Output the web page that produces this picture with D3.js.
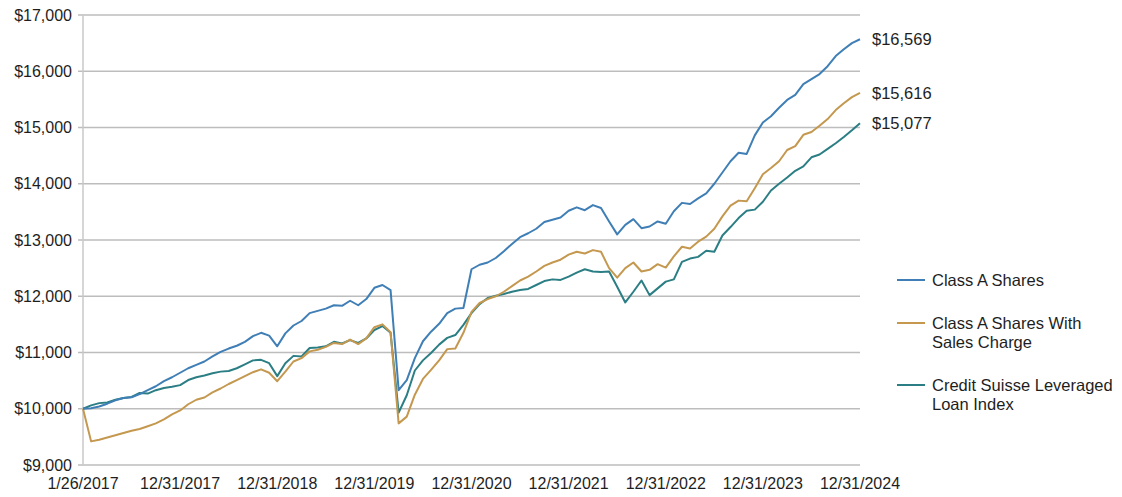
<!DOCTYPE html>
<html>
<head>
<meta charset="utf-8">
<script src="https://cdn.jsdelivr.net/npm/d3@7"></script>
<style>
  html, body { margin: 0; padding: 0; background: #fff; }
  svg { display: block; }
  text { font-family: "Liberation Sans", Arial, Helvetica, sans-serif; fill: #1e1e1e; }
</style>
</head>
<body>
<svg id="chart" width="1122" height="497"></svg>
<script>
// Period index 0 = 1/26/2017 (inception), then month-ends Jan 2017 ... Dec 2024
const tickLabels = ["1/26/2017", "12/31/2017", "12/31/2018", "12/31/2019", "12/31/2020",
                    "12/31/2021", "12/31/2022", "12/31/2023", "12/31/2024"];
const tickIndex = [0, 12, 24, 36, 48, 60, 72, 84, 96];

const seriesNames = ["Class A Shares", "Class A Shares With Sales Charge", "Credit Suisse Leveraged Loan Index"];
const endLabels = ["$16,569", "$15,616", "$15,077"];

const classA = [
  10000, 10010, 10040, 10090, 10150, 10190, 10205, 10260, 10330, 10400, 10490, 10560,
  10640, 10720, 10780, 10840, 10930, 11010, 11070, 11120, 11190, 11290, 11350, 11300,
  11110, 11340, 11480, 11560, 11700, 11740, 11780, 11840, 11830, 11920, 11840, 11950,
  12150, 12200, 12110, 10330, 10510, 10900, 11200, 11370, 11510, 11700, 11780, 11790,
  12480, 12560, 12600, 12680, 12800, 12930, 13050, 13120, 13200, 13320, 13360, 13400,
  13520, 13580, 13530, 13620, 13570, 13330, 13100, 13270, 13370, 13210, 13240, 13330,
  13290, 13510, 13660, 13640, 13740, 13830, 14000, 14200, 14400, 14550, 14530, 14860,
  15090, 15200, 15350, 15490, 15580, 15770, 15860, 15950, 16090, 16270, 16390, 16500,
  16569
];

const classAWithCharge = [
  10000, 9420, 9450, 9490, 9530, 9570, 9610, 9640, 9690, 9740, 9810, 9900,
  9970, 10080, 10160, 10200, 10290, 10360, 10440, 10510, 10580, 10650, 10700, 10640,
  10490, 10660, 10840, 10900, 11020, 11050, 11100, 11170, 11150, 11230, 11150, 11250,
  11450, 11500, 11360, 9740, 9860, 10250, 10530, 10690, 10860, 11060, 11070, 11350,
  11720, 11880, 11950, 12000, 12080, 12180, 12280, 12350, 12440, 12540, 12600, 12650,
  12740, 12790, 12760, 12820, 12790, 12500, 12330, 12500, 12600, 12440, 12470, 12570,
  12510, 12710, 12880, 12850, 12970, 13060, 13200, 13420, 13610, 13700, 13690, 13920,
  14170, 14280, 14400, 14600, 14670, 14870, 14920, 15030, 15150, 15310, 15430, 15540,
  15616
];

const loanIndex = [
  10000, 10060, 10100, 10110, 10160, 10190, 10210, 10280, 10270, 10330, 10370, 10390,
  10420, 10510, 10560, 10590, 10630, 10660, 10670, 10720, 10790, 10860, 10870, 10810,
  10580, 10810, 10940, 10930, 11080, 11090, 11110, 11190, 11160, 11220, 11170, 11250,
  11400, 11470, 11350, 9930, 10240, 10680, 10860, 10990, 11140, 11260, 11310, 11490,
  11700, 11860, 11970, 12010, 12040, 12080, 12110, 12130, 12200, 12270, 12300, 12290,
  12350, 12420, 12480, 12440, 12430, 12440, 12170, 11890, 12080, 12280, 12020, 12140,
  12260, 12300, 12610, 12670, 12700, 12810, 12790, 13080, 13230, 13390, 13520, 13540,
  13680, 13880, 14000, 14110, 14230, 14310, 14470, 14520, 14620, 14720, 14830, 14950,
  15077
];

const yTicks = [9000, 10000, 11000, 12000, 13000, 14000, 15000, 16000, 17000];
const colors = ["#3f7fb5", "#c4984f", "#2b7e84"];

(function () {
  const svg = d3.select("#chart");
  const mLeft = 83, mRight = 860, mTop = 15, mBottom = 465;

  const x = d3.scaleLinear().domain([0, classA.length - 1]).range([mLeft, mRight]);
  const y = d3.scaleLinear().domain([9000, 17000]).range([mBottom, mTop]);

  // gridlines
  svg.append("g").selectAll("line").data(yTicks).join("line")
    .attr("x1", mLeft - 5).attr("x2", mRight)
    .attr("y1", d => y(d)).attr("y2", d => y(d))
    .attr("stroke", "#bdbdbd").attr("stroke-width", 1.5);

  // left axis line
  svg.append("line").attr("x1", mLeft).attr("x2", mLeft).attr("y1", mTop).attr("y2", mBottom)
    .attr("stroke", "#c8c8c8").attr("stroke-width", 1.5);

  // y labels
  const fmt = d3.format("$,");
  svg.append("g").selectAll("text").data(yTicks).join("text")
    .attr("x", mLeft - 11).attr("y", d => y(d))
    .attr("dy", "0.35em").attr("text-anchor", "end")
    .style("font-size", "16px")
    .text(d => fmt(d));

  // x labels
  svg.append("g").selectAll("text").data(tickIndex).join("text")
    .attr("x", d => x(d)).attr("y", 489)
    .attr("text-anchor", "middle")
    .style("font-size", "16px")
    .text((d, i) => tickLabels[i]);

  // lines
  const allSeries = [classA, classAWithCharge, loanIndex];
  const line = d3.line().x((d, i) => x(i)).y(d => y(d));
  [2, 1, 0].forEach(k => {
    svg.append("path").datum(allSeries[k])
      .attr("fill", "none").attr("stroke", colors[k])
      .attr("stroke-width", 2).attr("stroke-linejoin", "round")
      .attr("d", line);
  });

  // end labels
  allSeries.forEach((s, k) => {
    svg.append("text")
      .attr("x", mRight + 12).attr("y", y(s[s.length - 1]))
      .attr("dy", "0.35em")
      .style("font-size", "16.5px")
      .text(endLabels[k]);
  });

  // legend
  const legendItems = [
    { lines: ["Class A Shares"], y: 280 },
    { lines: ["Class A Shares With", "Sales Charge"], y: 323 },
    { lines: ["Credit Suisse Leveraged", "Loan Index"], y: 385 }
  ];
  legendItems.forEach((it, k) => {
    svg.append("line").attr("x1", 897).attr("x2", 925)
      .attr("y1", it.y).attr("y2", it.y)
      .attr("stroke", colors[k]).attr("stroke-width", 2);
    const t = svg.append("text").attr("x", 932).attr("y", it.y)
      .style("font-size", "16.5px");
    it.lines.forEach((ln, j) => {
      t.append("tspan").attr("x", 932).attr("dy", j === 0 ? "0.35em" : "19px").text(ln);
    });
  });
})();
</script>
</body>
</html>
